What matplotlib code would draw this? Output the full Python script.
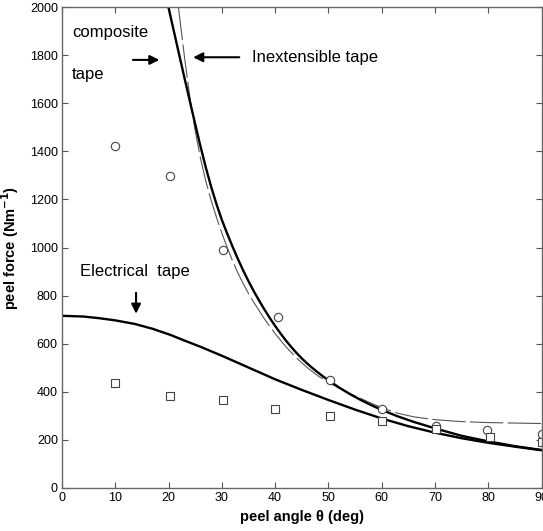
import matplotlib
matplotlib.use("Agg")
import matplotlib.pyplot as plt

plt.rcParams['font.family'] = ['Liberation Sans', 'DejaVu Sans']

# measured points (peel angle in deg, peel force in N/m)
circ_x = [10, 20.3, 30.3, 40.6, 50.3, 60, 70.2, 79.8, 90]
circ_y = [1423, 1299, 990, 712, 449, 328, 259, 241, 223]
sq_x = [10, 20.3, 30.3, 40, 50.3, 60, 70.2, 80.3, 90]
sq_y = [435, 383, 366, 328, 298, 280, 244, 211, 192]

# composite tape model (solid)
comp_x = [20, 21, 22, 23, 24, 25, 26, 27, 28, 29, 30, 31, 32, 33, 34, 35, 36, 37, 38, 39,
          40, 41, 42, 43, 44, 45, 46, 47, 48, 49, 50, 52, 54, 56, 58, 60, 63, 66, 70, 75, 80, 85, 90]
comp_y = [1997, 1899, 1801, 1704, 1608, 1513, 1420, 1332, 1252, 1180, 1115, 1058, 1004, 953, 905, 860, 818, 779, 742, 707,
          674, 643, 614, 587, 562, 539, 518, 499, 481, 464, 448, 418, 391, 367, 345, 325, 298, 275, 248, 217, 194, 174, 158]

# inextensible tape model (dashed)
inex_x = [21.85, 23, 24, 25, 26, 27, 28, 29, 30, 31, 32, 33, 34, 35, 36, 38, 40, 42, 44, 46, 48,
          50, 52, 55, 58, 60, 63, 66, 70, 75, 80, 85, 90]
inex_y = [2000, 1790, 1625, 1485, 1370, 1275, 1195, 1125, 1060, 1000, 945, 895, 850, 809, 772, 703, 642, 588, 541, 501, 467,
          439, 415, 383, 353, 334, 311, 296, 284, 276, 272, 270, 268]

# electrical tape model (solid)
elec_x = [0, 4, 7, 10, 13.7, 17, 20.3, 23, 25.9, 30, 35, 40, 45, 50, 55, 60, 65, 70, 75, 80, 85, 90]
elec_y = [716, 713, 706, 697, 682, 662, 637, 613, 588, 550, 501, 452, 408, 366, 326, 289, 257, 230, 207, 188, 172, 157]

x_ticks = [0, 10, 20, 30, 40, 50, 60, 70, 80, 90]
y_ticks = [0, 200, 400, 600, 800, 1000, 1200, 1400, 1600, 1800, 2000]

fig = plt.figure(figsize=(5.43, 5.31), dpi=100)
ax = fig.add_axes([62 / 543, 1 - 488 / 531, 479.5 / 543, 481 / 531])

ax.plot(inex_x, inex_y, color='#555555', lw=0.8, dashes=(30, 4))
ax.plot(comp_x, comp_y, color='black', lw=1.7)
ax.plot(elec_x, elec_y, color='black', lw=1.7)
ax.plot(circ_x, circ_y, 'o', mfc='white', mec='#444444', mew=0.8, ms=6, ls='none')
ax.plot(sq_x, sq_y, 's', mfc='white', mec='#444444', mew=0.8, ms=5.8, ls='none')

ax.set_xlim(0, 90)
ax.set_ylim(0, 2000)
ax.set_xticks(x_ticks)
ax.set_yticks(y_ticks)
ax.tick_params(direction='in', top=True, right=True, labelsize=9, length=4, pad=3, color='#555555')
for s in ax.spines.values():
    s.set_color('#666666')
    s.set_linewidth(1.0)

ax.set_xlabel('peel angle \u03b8 (deg)', fontsize=10.5, fontweight='bold', labelpad=4)
ax.set_ylabel('peel force (Nm$^{\\mathbf{-1}}$)', fontsize=10.5, fontweight='bold', labelpad=6)

# annotations
ax.text(1.9, 1892, 'composite', fontsize=12, va='center', ha='left')
ax.text(1.9, 1720, 'tape', fontsize=12, va='center', ha='left')
ax.annotate('', xy=(18.8, 1780), xytext=(12.8, 1780),
            arrowprops=dict(arrowstyle='-|>', color='black', lw=1.5, mutation_scale=14))
ax.annotate('', xy=(24.1, 1791), xytext=(33.8, 1791),
            arrowprops=dict(arrowstyle='-|>', color='black', lw=1.5, mutation_scale=14))
ax.text(35.6, 1792, 'Inextensible tape', fontsize=12, va='center', ha='left')
ax.text(3.4, 902, 'Electrical  tape', fontsize=12, va='center', ha='left')
ax.annotate('', xy=(13.9, 713), xytext=(13.9, 823),
            arrowprops=dict(arrowstyle='-|>', color='black', lw=1.5, mutation_scale=14))

fig.savefig('out.png', dpi=100)
